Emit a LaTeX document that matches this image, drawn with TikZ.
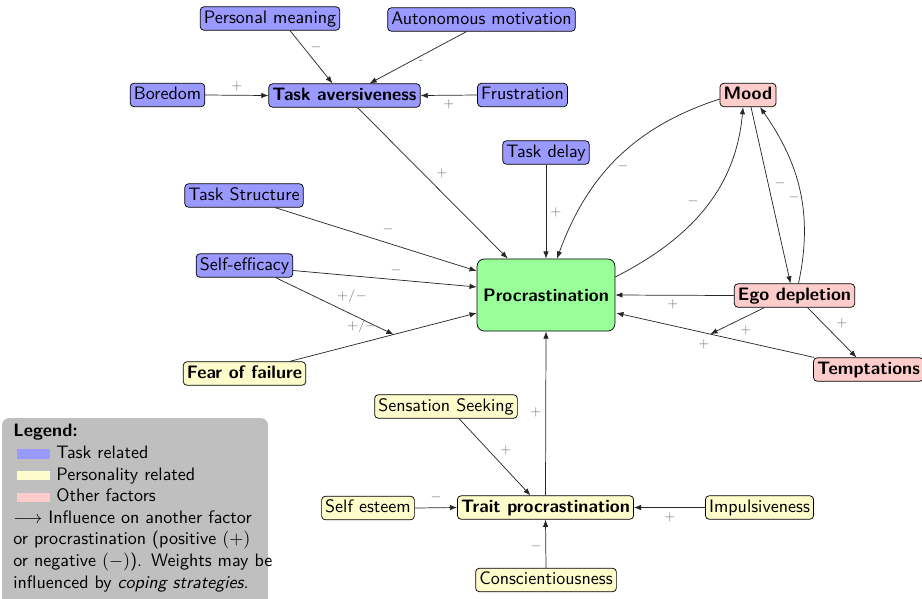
\documentclass[tikz,border=0pt]{standalone}
\usetikzlibrary{arrows.meta,calc}
\renewcommand{\familydefault}{\sfdefault}
\begin{document}
\begin{tikzpicture}[x=0.555pt,y=0.555pt,
  box/.style={draw=black, rounded corners=2pt, inner sep=2pt, text height=7pt, text depth=2pt},
  tbox/.style={box, fill=blue!40},
  pbox/.style={box, fill=yellow!20},
  obox/.style={box, fill=red!20},
  arr/.style={-{Latex[length=4pt,width=3pt]}, black!85},
  lbl/.style={text=gray, font=\scriptsize, inner sep=0pt}]
\useasboundingbox (0,0) rectangle (922,-598);

% legend background
\fill[gray!50, rounded corners=4pt] (2,-418) rectangle (268,-620);
\node[anchor=north west, align=left, inner sep=0pt, text width=150pt] (leg) at (13,-424) {%
\textbf{Legend:}\\
\hspace*{2pt}\textcolor{blue!40}{\rule{18.5pt}{5pt}} Task related\\
\hspace*{2pt}\textcolor{yellow!20}{\rule{18.5pt}{5pt}} Personality related\\
\hspace*{2pt}\textcolor{red!20}{\rule{18.5pt}{5pt}} Other factors\\
$\longrightarrow$ Influence on another factor\\
or procrastination (positive $(+)$\\
or negative $(-)$). Weights may be\\
influenced by \textit{coping strategies}.};

% nodes
\node[tbox] (pm) at (270,-18.5) {Personal meaning};
\node[tbox] (am) at (481.5,-19.5) {Autonomous motivation};
\node[tbox] (bo) at (167.5,-95) {Boredom};
\node[tbox, font=\bfseries] (ta) at (344.5,-95.5) {Task aversiveness};
\node[tbox] (fr) at (522.5,-95) {Frustration};
\node[tbox] (td) at (546,-152.5) {Task delay};
\node[tbox] (ts) at (244,-195.5) {Task Structure};
\node[tbox] (se) at (244.5,-265.5) {Self-efficacy};
\node[draw=black, rounded corners=4pt, fill=green!40, minimum width=74.5pt, minimum height=40pt, font=\bfseries] (P) at (546,-295) {Procrastination};
\node[pbox, font=\bfseries] (ff) at (244.5,-373.5) {Fear of failure};
\node[obox, font=\bfseries] (mood) at (748,-95) {Mood};
\node[obox, font=\bfseries] (ego) at (794.5,-295.5) {Ego depletion};
\node[obox, font=\bfseries] (tem) at (868.5,-369.5) {Temptations};
\node[pbox] (ss) at (446,-406.5) {Sensation Seeking};
\node[pbox, font=\bfseries] (tp) at (545.5,-507.5) {Trait procrastination};
\node[pbox] (sest) at (368,-508) {Self esteem};
\node[pbox] (imp) at (759.5,-507.5) {Impulsiveness};
\node[pbox] (con) at (546,-580) {Conscientiousness};

% helper coordinates
\coordinate (ffA) at ($(ff.north)+(45,0)$);
\coordinate (ffB) at ($(P.west)+(0,-18)$);
\coordinate (m1) at ($(ffA)!0.556!(ffB)$);
\coordinate (temA) at ($(tem.north west)+(1,0)$);
\coordinate (temB) at ($(P.east)+(1,-18)$);
\coordinate (m2) at ($(temA)!0.525!(temB)$);

% edges
\draw[arr] ($(pm.south)+(20,0)$) -- ($(ta.north)+(-12,0)$) node[lbl] (l1) at (316,-47) {$-$};
\draw[arr] ($(am.south)+(-15,0)$) -- ($(ta.north)+(25,0)$) node[lbl] (l2) at (421,-62) {-};
\draw[arr] (bo.east) -- (ta.west) node[lbl] (l3) at (237,-86) {$+$};
\draw[arr] (fr.west) -- (ta.east) node[lbl] (l4) at (449,-104) {$+$};
\draw[arr] ($(ta.south)+(13,0)$) -- ($(P.north west)+(31,0)$) node[lbl] (l5) at (442,-173) {$+$};
\draw[arr] (td.south) -- (P.north) node[lbl] (l6) at (556,-212) {$+$};
\draw[arr] ($(ts.south)+(31,0)$) -- ($(P.west)+(0,24)$) node[lbl] (l7) at (388,-229) {$-$};
\draw[arr] ($(se.east)+(0,-5)$) -- ($(P.west)+(0,8)$) node[lbl] (l8) at (396,-270) {$-$};
\draw[arr] ($(se.south)+(31,0)$) -- (m1) node[lbl] (l9) at (352,-296) {$+/-$};
\draw[arr] (ffA) -- (ffB) node[lbl] (l10) at (362,-326) {$+/-$};
\draw[arr] ($(mood.west)+(0,-4)$) to[out=198,in=70] ($(P.north)+(11,0)$);
\node[lbl] (l11) at (623,-166) {$-$};
\draw[arr] ($(P.east)+(0,18)$) to[out=27,in=265] ($(mood.south)+(-5,0)$);
\node[lbl] (l12) at (693,-201) {$-$};
\draw[arr] ($(mood.south)+(3,0)$) -- ($(ego.north)+(-4,0)$) node[lbl] (l13) at (780,-183) {$-$};
\draw[arr] ($(ego.north)+(4,0)$) to[out=78,in=-55] ($(mood.south)+(12,0)$);
\node[lbl] (l14) at (794,-197) {$-$};
\draw[arr] (ego.west) -- (P.east) node[lbl] (l15) at (673,-304) {$+$};
\draw[arr] ($(ego.south)+(-30,0)$) -- (m2) node[lbl] (l16) at (746,-330) {$+$};
\draw[arr] (temA) -- (temB) node[lbl] (l17) at (704,-344) {$+$};
\draw[arr] ($(ego.south)+(13,0)$) -- ($(tem.north)+(-12,0)$) node[lbl] (l18) at (842,-323) {$+$};
\draw[arr] (tp.north) -- (P.south) node[lbl] (l19) at (536,-412) {$+$};
\draw[arr] ($(ss.south)+(13,0)$) -- ($(tp.north)+(-15,0)$) node[lbl] (l20) at (506,-450) {$+$};
\draw[arr] (sest.east) -- (tp.west) node[lbl] (l21) at (436,-497) {$-$};
\draw[arr] (imp.west) -- (tp.east) node[lbl] (l22) at (670,-517) {$+$};
\draw[arr] (con.north) -- (tp.south) node[lbl] (l23) at (536,-546) {$-$};
\end{tikzpicture}
\end{document}
